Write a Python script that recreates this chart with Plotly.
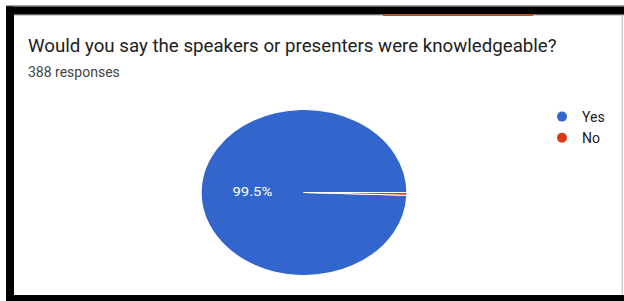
import plotly.graph_objects as go

# Data
labels = ["Yes", "No"]
values = [386, 2]
colors = ["#3366cc", "#dc3912"]
title_text = "Would you say the speakers or presenters were knowledgeable?"
subtitle_text = "388 responses"

W, H = 624, 301
total = sum(values)
rotation = 90 + 360 * values[1] / total

fig = go.Figure()
fig.add_trace(go.Pie(
    labels=labels, values=values, sort=False, direction="clockwise",
    rotation=rotation,
    marker=dict(colors=colors, line=dict(color="white", width=1)),
    texttemplate=["%{percent:.1%}", ""], textposition="inside",
    insidetextfont=dict(color="white", size=12, family="Roboto"),
    showlegend=False, hoverinfo="label+percent",
    domain=dict(x=[(304 - 83) / W, (304 + 83) / W],
                y=[(H - 275.5) / H, (H - 109.5) / H]),
))
for lab, col in zip(labels, colors):
    fig.add_trace(go.Scatter(x=[None], y=[None], mode="markers", name=lab,
                             marker=dict(color=col, size=10, symbol="circle")))

def px_rect(x0, y0, x1, y1, color):
    fig.add_shape(type="rect", xref="paper", yref="paper",
                  x0=x0 / W, x1=x1 / W, y0=1 - y1 / H, y1=1 - y0 / H,
                  fillcolor=color, line=dict(width=0), layer="above")

# frame
px_rect(6, 5, 624, 6.5, "#9e9e9e")
px_rect(621.5, 6, 623, 301, "#cfcfcf")
px_rect(6, 14, 624, 16, "#cfcfcf")
px_rect(6, 6.5, 624, 14.5, "black")
px_rect(6, 6.5, 14, 301, "black")
px_rect(6, 295, 624, 301, "black")
px_rect(383, 14, 533, 16, "#b5532b")

fig.update_layout(
    width=W, height=H, margin=dict(l=0, r=0, t=0, b=0),
    paper_bgcolor="white", plot_bgcolor="white",
    xaxis=dict(visible=False), yaxis=dict(visible=False),
    font=dict(family="Roboto", color="#202124"),
    legend=dict(x=542 / W, y=1 - 101 / H, xanchor="left", yanchor="top",
                font=dict(size=14, color="#202124", family="Roboto"),
                bgcolor="rgba(0,0,0,0)", tracegroupgap=0),
    annotations=[
        dict(text=title_text, x=26 / W, y=1 - 46 / H, xref="paper", yref="paper",
             xanchor="left", yanchor="middle", showarrow=False,
             font=dict(size=18.7, color="#212121", family="Roboto")),
        dict(text=subtitle_text, x=26 / W, y=1 - 72 / H, xref="paper", yref="paper",
             xanchor="left", yanchor="middle", showarrow=False,
             font=dict(size=14, color="#444444", family="Roboto")),
    ],
)

post = """
document.body.style.margin = '0';
document.body.style.padding = '0';
var gd = document.getElementById('{plot_id}');
function stretch(){
  var pl = gd.querySelector('.pielayer');
  if (pl) { pl.style.transformOrigin = '304px 192.5px'; pl.style.transform = 'scaleX(1.24)'; }
}
stretch();
gd.on('plotly_afterplot', stretch);
"""
fig.write_html("out.html", post_script=post, config={"displayModeBar": False})
